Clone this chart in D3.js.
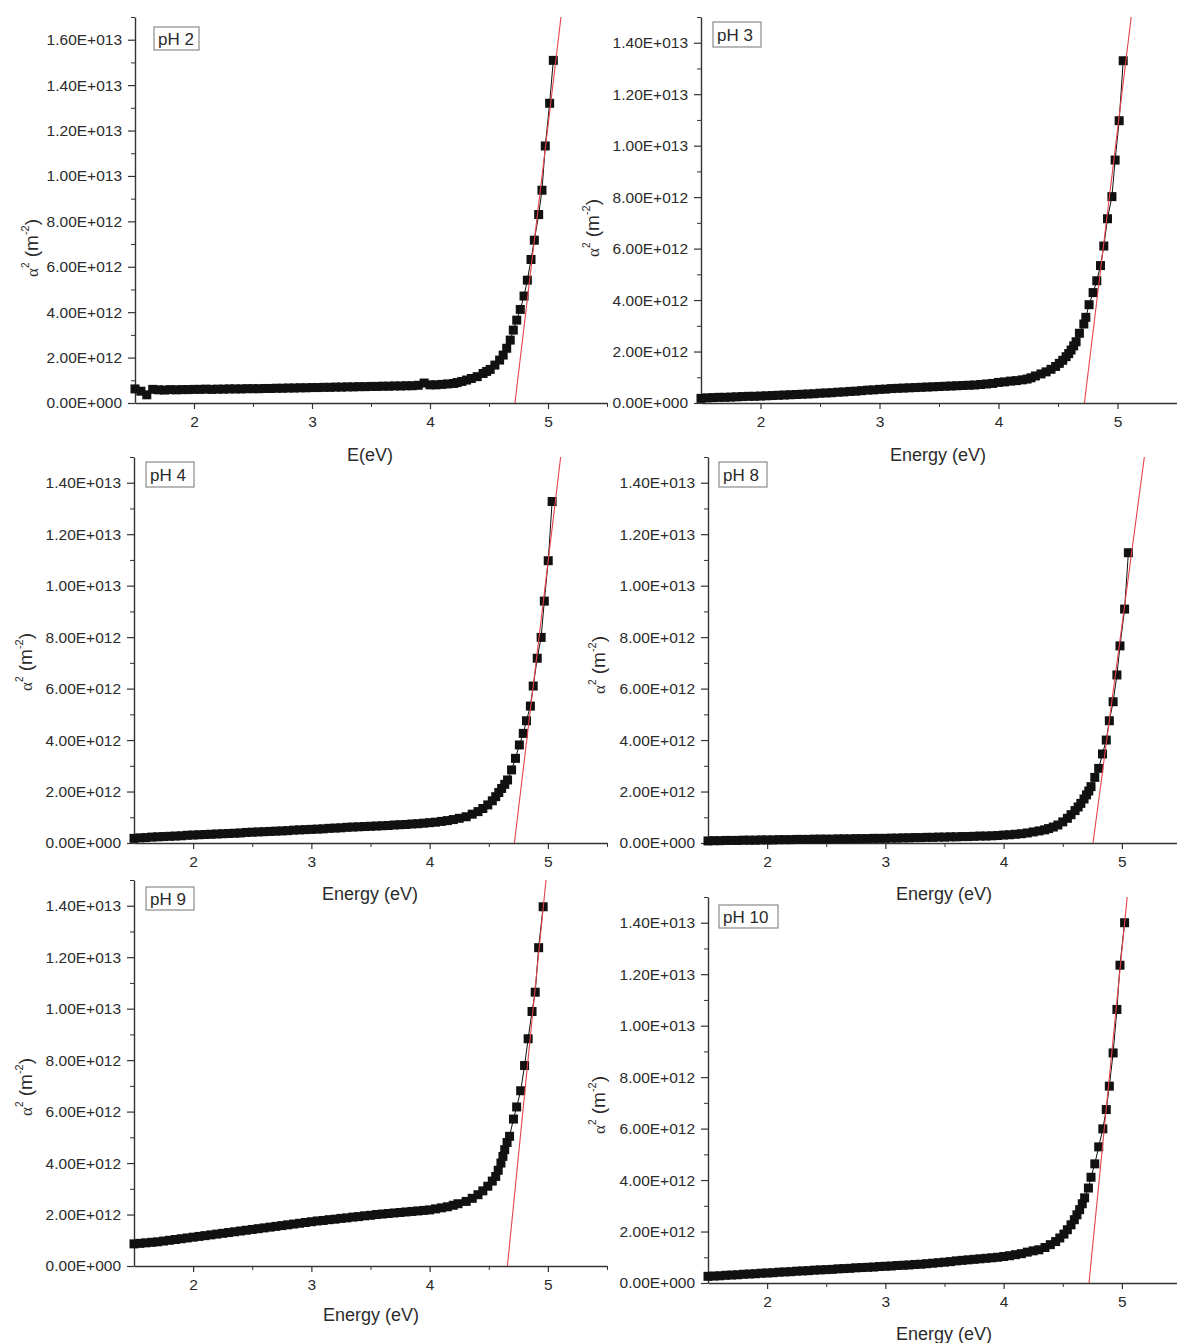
<!DOCTYPE html>
<html>
<head>
<meta charset="utf-8">
<script src="https://cdn.jsdelivr.net/npm/d3@7"></script>
<style>
  body { margin: 0; background: #fff; }
  svg { display: block; }
  text { font-family: "Liberation Sans", Arial, sans-serif; fill: #2b2b2b; }
</style>
</head>
<body>
<div id="chart"></div>
<script>

  //////////
  // Data //
  //////////

  // alpha^2 values are in units of 1e12 m^-2, energies in eV
  var sampleNames = ['pH 2', 'pH 3', 'pH 4', 'pH 8', 'pH 9', 'pH 10'];
  var xTitles = ['E(eV)', 'Energy (eV)', 'Energy (eV)', 'Energy (eV)', 'Energy (eV)', 'Energy (eV)'];
  var yMax = [17, 15, 15, 15, 15, 15];
  var yMajor = [[0,2,4,6,8,10,12,14,16], [0,2,4,6,8,10,12,14], [0,2,4,6,8,10,12,14],
                [0,2,4,6,8,10,12,14], [0,2,4,6,8,10,12,14], [0,2,4,6,8,10,12,14]];
  var xMajor = [2, 3, 4, 5];
  var xMinor = [2.5, 3.5, 4.5, 5.5];

  // low energy part, same energies for every sample
  var flatE = [1.50,1.55,1.60,1.65,1.70,1.75,1.80,1.85,1.90,1.95,
               2.00,2.05,2.10,2.15,2.20,2.25,2.30,2.35,2.40,2.45,
               2.50,2.55,2.60,2.65,2.70,2.75,2.80,2.85,2.90,2.95,
               3.00,3.05,3.10,3.15,3.20,3.25,3.30,3.35,3.40,3.45,
               3.50,3.55,3.60,3.65,3.70,3.75,3.80,3.85,3.90,3.95,
               4.00,4.05,4.10,4.15,4.20];

  var flatPH2 = [0.62,0.52,0.36,0.60,0.58,0.57,0.59,0.58,0.59,0.59,
                 0.60,0.60,0.61,0.60,0.61,0.61,0.62,0.62,0.62,0.63,
                 0.63,0.63,0.64,0.64,0.65,0.65,0.66,0.66,0.67,0.67,
                 0.68,0.68,0.69,0.69,0.70,0.70,0.71,0.71,0.72,0.72,
                 0.73,0.73,0.74,0.74,0.75,0.75,0.76,0.76,0.78,0.88,
                 0.80,0.80,0.82,0.84,0.86];
  var flatPH3 = [0.18,0.20,0.21,0.22,0.22,0.23,0.24,0.25,0.26,0.26,
                 0.27,0.28,0.29,0.30,0.31,0.32,0.33,0.34,0.35,0.36,
                 0.38,0.39,0.40,0.42,0.43,0.45,0.46,0.48,0.50,0.51,
                 0.53,0.54,0.56,0.57,0.58,0.59,0.60,0.61,0.62,0.63,
                 0.64,0.65,0.66,0.67,0.68,0.69,0.70,0.72,0.74,0.76,
                 0.80,0.82,0.85,0.87,0.90];
  var flatPH4 = [0.18,0.20,0.21,0.23,0.24,0.25,0.26,0.27,0.28,0.30,
                 0.31,0.32,0.33,0.34,0.35,0.36,0.37,0.38,0.39,0.41,
                 0.42,0.43,0.44,0.45,0.46,0.47,0.48,0.50,0.51,0.52,
                 0.53,0.54,0.55,0.57,0.58,0.59,0.61,0.62,0.63,0.64,
                 0.65,0.66,0.67,0.68,0.70,0.71,0.72,0.74,0.75,0.77,
                 0.79,0.81,0.84,0.87,0.91];
  var flatPH8 = [0.08,0.09,0.09,0.10,0.10,0.10,0.11,0.11,0.11,0.12,
                 0.12,0.12,0.13,0.13,0.13,0.14,0.14,0.14,0.15,0.15,
                 0.15,0.15,0.16,0.16,0.16,0.17,0.17,0.17,0.18,0.18,
                 0.18,0.19,0.19,0.20,0.20,0.21,0.21,0.22,0.22,0.23,
                 0.23,0.24,0.24,0.25,0.25,0.26,0.27,0.27,0.28,0.29,
                 0.31,0.32,0.34,0.36,0.39];
  var flatPH9 = [0.86,0.88,0.90,0.92,0.94,0.97,1.00,1.03,1.06,1.09,
                 1.12,1.15,1.18,1.21,1.24,1.27,1.30,1.33,1.36,1.39,
                 1.42,1.45,1.48,1.51,1.54,1.57,1.60,1.63,1.66,1.69,
                 1.72,1.75,1.77,1.80,1.82,1.85,1.87,1.90,1.92,1.95,
                 1.97,2.00,2.02,2.04,2.06,2.08,2.10,2.12,2.14,2.16,
                 2.18,2.22,2.26,2.30,2.36];
  var flatPH10 = [0.26,0.27,0.28,0.30,0.31,0.32,0.34,0.35,0.36,0.38,
                  0.39,0.40,0.42,0.43,0.44,0.46,0.47,0.48,0.50,0.51,
                  0.52,0.53,0.55,0.56,0.57,0.59,0.60,0.61,0.62,0.64,
                  0.65,0.66,0.68,0.69,0.70,0.72,0.73,0.75,0.77,0.79,
                  0.81,0.83,0.86,0.88,0.90,0.92,0.94,0.96,0.98,1.00,
                  1.03,1.06,1.10,1.14,1.20];

  // absorption edge part, read point by point
  var edgeE_PH2 = [4.23,4.27,4.31,4.35,4.40,4.45,4.48,4.51,4.55,4.59,4.62,4.65,4.68,
                   4.706,4.735,4.765,4.797,4.825,4.856,4.884,4.921,4.949,4.977,5.014,5.045];
  var edgeV_PH2 = [0.90,0.95,1.01,1.08,1.16,1.30,1.39,1.48,1.67,1.89,2.11,2.41,2.77,
                   3.21,3.65,4.12,4.71,5.41,6.32,7.17,8.30,9.37,11.32,13.20,15.09];
  var edgeE_PH3 = [4.24,4.273,4.31,4.357,4.40,4.441,4.48,4.511,4.54,4.568,4.59,4.61,4.632,4.652,
                   4.68,4.717,4.734,4.761,4.795,4.826,4.857,4.885,4.916,4.953,4.98,5.014,5.048];
  var edgeV_PH3 = [0.93,0.98,1.05,1.13,1.21,1.31,1.42,1.54,1.66,1.80,1.92,2.06,2.22,2.38,
                   2.71,3.07,3.33,3.82,4.29,4.75,5.34,6.10,7.16,8.02,9.44,10.97,13.30];
  var edgeE_PH4 = [4.25,4.309,4.36,4.409,4.45,4.492,4.53,4.559,4.585,4.609,4.635,4.659,
                   4.693,4.726,4.759,4.792,4.819,4.852,4.876,4.91,4.943,4.97,5.003,5.036];
  var edgeV_PH4 = [0.96,1.02,1.12,1.22,1.34,1.48,1.64,1.80,1.96,2.12,2.28,2.45,
                   2.84,3.29,3.81,4.26,4.75,5.32,6.10,7.18,7.99,9.40,10.97,13.27];
  var edgeE_PH8 = [4.25,4.30,4.347,4.38,4.42,4.459,4.50,4.539,4.57,4.604,4.63,4.653,4.68,4.701,4.72,
                   4.739,4.771,4.804,4.836,4.868,4.894,4.926,4.958,4.984,5.023,5.055];
  var edgeV_PH8 = [0.43,0.47,0.51,0.56,0.62,0.70,0.82,0.96,1.10,1.26,1.40,1.54,1.71,1.87,2.02,
                   2.19,2.55,2.90,3.46,4.00,4.75,5.49,6.53,7.66,9.09,11.28];
  var edgeE_PH9 = [4.24,4.309,4.36,4.409,4.45,4.492,4.53,4.559,4.58,4.603,4.62,4.635,4.655,4.676,
                   4.709,4.736,4.77,4.803,4.833,4.866,4.893,4.922,4.96];
  var edgeV_PH9 = [2.42,2.51,2.63,2.77,2.92,3.10,3.30,3.48,3.72,4.00,4.26,4.52,4.80,5.04,
                   5.71,6.18,6.81,7.79,8.83,9.89,10.64,12.37,13.96];
  var edgeE_PH10 = [4.25,4.298,4.35,4.395,4.44,4.475,4.51,4.539,4.57,4.598,4.62,4.643,4.665,4.685,
                    4.717,4.739,4.771,4.804,4.839,4.868,4.894,4.926,4.958,4.984,5.023];
  var edgeV_PH10 = [1.25,1.29,1.38,1.49,1.61,1.75,1.90,2.07,2.26,2.46,2.65,2.85,3.08,3.31,
                    3.69,4.11,4.63,5.29,5.99,6.74,7.65,8.94,10.63,12.35,14.00];

  // linear fits: energy where the line meets zero and where it reaches the top of the axis
  var fitZeroE = [4.72, 4.722, 4.717, 4.756, 4.658, 4.722];
  var fitTopE  = [5.11, 5.115, 5.108, 5.19, 4.984, 5.045];

  var flats = [flatPH2, flatPH3, flatPH4, flatPH8, flatPH9, flatPH10];
  var edgesE = [edgeE_PH2, edgeE_PH3, edgeE_PH4, edgeE_PH8, edgeE_PH9, edgeE_PH10];
  var edgesV = [edgeV_PH2, edgeV_PH3, edgeV_PH4, edgeV_PH8, edgeV_PH9, edgeV_PH10];

  ////////////
  // Layout //
  ////////////

  var layout = [
    {xl: 135, xr: 607,  yb: 403,  yt: 17,  box: [19, 10, 45, 23], ylab: [31, 248],   xlab: [370, 461]},
    {xl: 701, xr: 1177, yb: 403,  yt: 17,  box: [12, 5, 48, 25],  ylab: [592, 228],  xlab: [938, 461]},
    {xl: 134, xr: 607,  yb: 843,  yt: 457, box: [12, 5, 48, 25],  ylab: [25, 662],   xlab: [370, 900]},
    {xl: 708, xr: 1181, yb: 843,  yt: 457, box: [11, 5, 48, 25],  ylab: [598, 665],  xlab: [944, 900]},
    {xl: 134, xr: 607,  yb: 1266, yt: 880, box: [12, 7, 48, 23],  ylab: [25, 1087],  xlab: [371, 1321]},
    {xl: 708, xr: 1181, yb: 1283, yt: 897, box: [11, 8, 59, 23],  ylab: [598, 1105], xlab: [944, 1340]}
  ];

  var svg = d3.select('#chart')
              .append('svg')
              .attr('width', 1177)
              .attr('height', 1343);

  // 2 -> "2.00E+012"
  var sci = function(v){
    if(v === 0){ return '0.00E+000'; }
    var n = v * 1e12;
    var e = Math.floor(Math.log10(n) + 1e-9);
    return (n / Math.pow(10, e)).toFixed(2) + 'E+' + ('000' + e).slice(-3);
  };

  var styleAxis = function(sel){
    sel.select('.domain').attr('stroke', '#333').attr('stroke-width', 1.4);
    sel.selectAll('.tick line').attr('stroke', '#333').attr('stroke-width', 1.2);
    sel.selectAll('.tick text')
       .attr('fill', '#2b2b2b')
       .style('font-size', '15.5px')
       .style('font-family', '"Liberation Sans", Arial, sans-serif');
  };

  /////////////////
  // Draw panels //
  /////////////////

  sampleNames.forEach(function(name, i){
    var L = layout[i];
    var x = d3.scaleLinear().domain([1.5, 5.5]).range([L.xl, L.xr]);
    var y = d3.scaleLinear().domain([0, yMax[i]]).range([L.yb, L.yt]);

    var yMinor = d3.range(1, yMax[i] + 0.5, 2);

    var g = svg.append('g').attr('class', 'panel');

    // minor ticks
    g.append('g')
     .attr('transform', 'translate(0,' + L.yb + ')')
     .call(d3.axisBottom(x).tickValues(xMinor).tickSize(4).tickFormat(''))
     .call(function(s){ s.select('.domain').remove(); s.selectAll('line').attr('stroke', '#333'); });
    g.append('g')
     .attr('transform', 'translate(' + L.xl + ',0)')
     .call(d3.axisLeft(y).tickValues(yMinor).tickSize(4).tickFormat(''))
     .call(function(s){ s.select('.domain').remove(); s.selectAll('line').attr('stroke', '#333'); });

    // major axes
    g.append('g')
     .attr('transform', 'translate(0,' + L.yb + ')')
     .call(d3.axisBottom(x).tickValues(xMajor).tickSize(6).tickSizeOuter(0).tickPadding(7).tickFormat(d3.format('d')))
     .call(styleAxis);
    g.append('g')
     .attr('transform', 'translate(' + L.xl + ',0)')
     .call(d3.axisLeft(y).tickValues(yMajor[i]).tickSize(7).tickSizeOuter(0).tickPadding(6).tickFormat(sci))
     .call(styleAxis);

    // data
    var pts = flatE.map(function(e, k){ return [e, flats[i][k]]; })
                   .concat(edgesE[i].map(function(e, k){ return [e, edgesV[i][k]]; }));

    g.append('path')
     .datum(pts)
     .attr('fill', 'none')
     .attr('stroke', '#111')
     .attr('stroke-width', 1)
     .attr('d', d3.line().x(function(d){ return x(d[0]); }).y(function(d){ return y(d[1]); }));

    var ms = 9;
    g.selectAll('rect.pt')
     .data(pts)
     .enter().append('rect')
     .attr('class', 'pt')
     .attr('x', function(d){ return x(d[0]) - ms / 2; })
     .attr('y', function(d){ return y(d[1]) - ms / 2; })
     .attr('width', ms)
     .attr('height', ms)
     .attr('fill', '#111');

    // fit line
    g.append('line')
     .attr('x1', x(fitZeroE[i])).attr('y1', y(0))
     .attr('x2', x(fitTopE[i])).attr('y2', y(yMax[i]))
     .attr('stroke', '#e8424c')
     .attr('stroke-width', 1.1);

    // sample label box
    var b = L.box;
    g.append('rect')
     .attr('x', L.xl + b[0]).attr('y', L.yt + b[1])
     .attr('width', b[2]).attr('height', b[3])
     .attr('fill', '#fff')
     .attr('stroke', '#8a8a8a')
     .attr('stroke-width', 1.2);
    g.append('text')
     .attr('x', L.xl + b[0] + 4)
     .attr('y', L.yt + b[1] + b[3] / 2 + 6)
     .style('font-size', '17px')
     .text(name);

    // x title
    g.append('text')
     .attr('x', L.xlab[0]).attr('y', L.xlab[1])
     .attr('text-anchor', 'middle')
     .style('font-size', '18px')
     .text(xTitles[i]);

    // y title: alpha^2 (m^-2)
    var yt = g.append('text')
              .attr('transform', 'translate(' + (L.ylab[0] + 7) + ',' + L.ylab[1] + ') rotate(-90)')
              .attr('text-anchor', 'middle')
              .style('font-size', '19px');
    yt.append('tspan').style('font-family', '"Liberation Serif", "Times New Roman", serif').style('font-size', '17px').text('α');
    yt.append('tspan').attr('dy', -9).style('font-size', '10px').text('2');
    yt.append('tspan').attr('dy', 9).text(' (m');
    yt.append('tspan').attr('dy', -9).style('font-size', '11px').text('-2');
    yt.append('tspan').attr('dy', 9).text(')');
  });

</script>
</body>
</html>
